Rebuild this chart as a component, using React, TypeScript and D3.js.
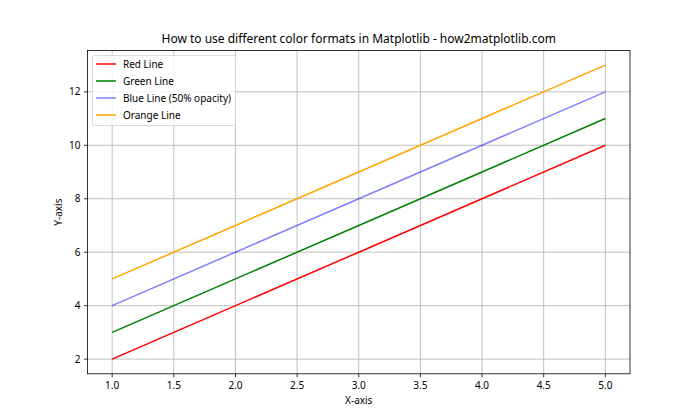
import React from "react";
import * as d3 from "d3";

const xValues = [1, 2, 3, 4, 5];
const redValues = [2, 4, 6, 8, 10];
const greenValues = [3, 5, 7, 9, 11];
const blueValues = [4, 6, 8, 10, 12];
const orangeValues = [5, 7, 9, 11, 13];
const seriesNames = ["Red Line", "Green Line", "Blue Line (50% opacity)", "Orange Line"];
const xTicks = [1.0, 1.5, 2.0, 2.5, 3.0, 3.5, 4.0, 4.5, 5.0];
const yTicks = [2, 4, 6, 8, 10, 12];

const W = 700, H = 420;
const L = 87.5, R = 630, T = 50.4, B = 373.8;
const font = "'Noto Sans', 'DejaVu Sans', sans-serif";

export default function App() {
  const x = d3.scaleLinear().domain([0.8, 5.2]).range([L, R]);
  const y = d3.scaleLinear().domain([1.45, 13.55]).range([B, T]);
  const series = [
    { name: seriesNames[0], values: redValues, color: "#ff0000", opacity: 1 },
    { name: seriesNames[1], values: greenValues, color: "#008000", opacity: 1 },
    { name: seriesNames[2], values: blueValues, color: "#0000ff", opacity: 0.5 },
    { name: seriesNames[3], values: orangeValues, color: "#ffa500", opacity: 1 },
  ];
  const line = d3.line<[number, number]>().x(d => x(d[0])).y(d => y(d[1]));
  return (
    <svg width={W} height={H} style={{ position: "absolute", left: 0, top: 0 }} fontFamily={font}>
      <rect width={W} height={H} fill="#fff" />
      {xTicks.map(t => (
        <g key={"x" + t}>
          <line x1={x(t)} x2={x(t)} y1={T} y2={B} stroke="#b0b0b0" strokeWidth={0.8} />
          <line x1={x(t)} x2={x(t)} y1={B} y2={B + 3.5} stroke="#000" strokeWidth={0.8} />
          <text x={x(t)} y={B + 15} fontSize={10} textAnchor="middle" fill="#000">{t.toFixed(1)}</text>
        </g>
      ))}
      {yTicks.map(t => (
        <g key={"y" + t}>
          <line x1={L} x2={R} y1={y(t)} y2={y(t)} stroke="#b0b0b0" strokeWidth={0.8} />
          <line x1={L - 3.5} x2={L} y1={y(t)} y2={y(t)} stroke="#000" strokeWidth={0.8} />
          <text x={L - 7} y={y(t) + 3.5} fontSize={10} textAnchor="end" fill="#000">{t}</text>
        </g>
      ))}
      {series.map(s => (
        <path key={s.name} d={line(xValues.map((v, i) => [v, s.values[i]] as [number, number])) || ""}
          fill="none" stroke={s.color} strokeOpacity={s.opacity} strokeWidth={1.5} />
      ))}
      <rect x={L} y={T} width={R - L} height={B - T} fill="none" stroke="#000" strokeWidth={0.8} />
      <text x={(L + R) / 2} y={T - 7} fontSize={12} textAnchor="middle" fill="#000">How to use different color formats in Matplotlib - how2matplotlib.com</text>
      <text x={(L + R) / 2} y={B + 30} fontSize={10} textAnchor="middle" fill="#000">X-axis</text>
      <text transform={`translate(${L - 26},${(T + B) / 2}) rotate(-90)`} fontSize={10} textAnchor="middle" fill="#000">Y-axis</text>
      <g>
        <rect x={92.5} y={55.5} width={143} height={70} rx={2} fill="#fff" fillOpacity={0.8} stroke="#d0d0d0" strokeWidth={0.8} />
        {series.map((s, i) => (
          <g key={"lg" + s.name}>
            <line x1={96} x2={116} y1={64 + i * 17} y2={64 + i * 17} stroke={s.color} strokeOpacity={s.opacity} strokeWidth={1.5} />
            <text x={123} y={64 + i * 17 + 3.5} fontSize={10} fill="#000">{s.name}</text>
          </g>
        ))}
      </g>
    </svg>
  );
}
